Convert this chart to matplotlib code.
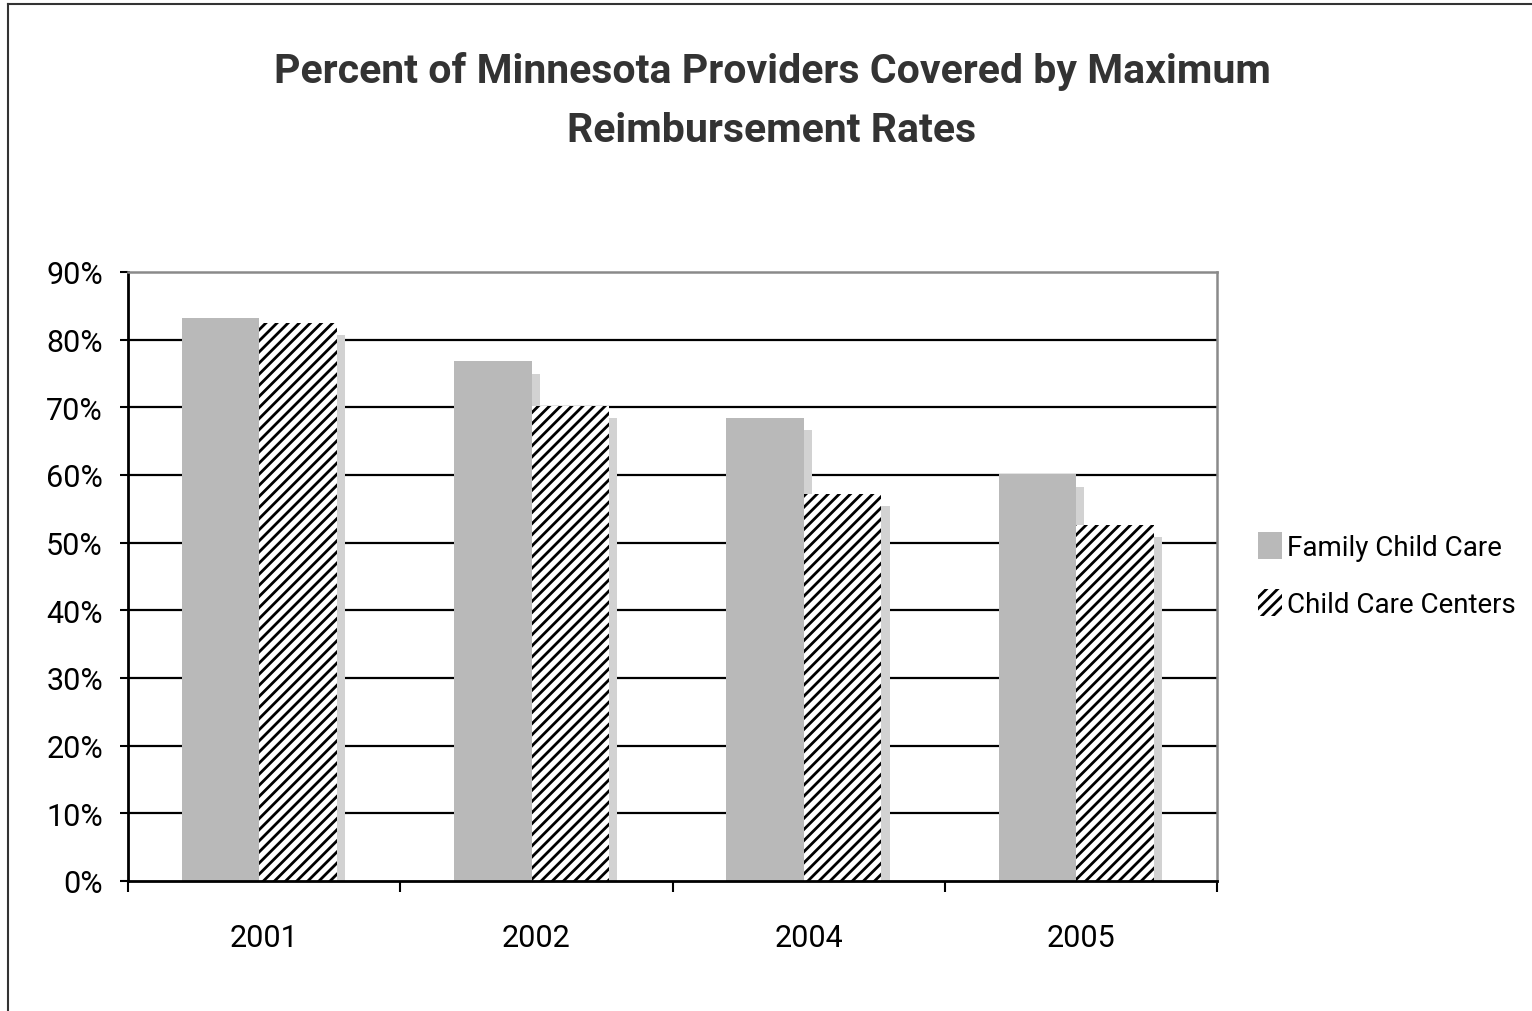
import matplotlib
matplotlib.use("Agg")
import matplotlib.pyplot as plt
from matplotlib.patches import Patch
from matplotlib.lines import Line2D
import numpy as np

# Data
years = ["2001", "2002", "2004", "2005"]
family_child_care = [83.2, 76.8, 68.4, 60.1]
child_care_centers = [82.5, 70.2, 57.2, 52.6]
y_ticks = [0, 10, 20, 30, 40, 50, 60, 70, 80, 90]
y_tick_labels = ["0%", "10%", "20%", "30%", "40%", "50%", "60%", "70%", "80%", "90%"]
title_text = "Percent of Minnesota Providers Covered by Maximum\nReimbursement Rates"
series_names = ["Family Child Care", "Child Care Centers"]

plt.rcParams["font.family"] = ["Roboto", "DejaVu Sans"]
plt.rcParams["hatch.linewidth"] = 2.0

BAR_GRAY = "#b9b9b9"
DEPTH_GRAY = "#d2d2d2"

fig = plt.figure(figsize=(15.32, 10.12), dpi=100)
ax = fig.add_axes([128 / 1532, 1 - 882 / 1012, (1217 - 128) / 1532, (882 - 273) / 1012])

x = np.arange(len(years))
w = 0.285
off_f = -0.16
off_c = 0.125
depth_w = 0.03
depth_drop = 1.8

# depth strips behind each bar
ax.bar(x + off_f + w / 2 + depth_w / 2, np.array(family_child_care) - depth_drop, width=depth_w,
       color=DEPTH_GRAY, edgecolor="none", zorder=2)
ax.bar(x + off_c + w / 2 + depth_w / 2, np.array(child_care_centers) - depth_drop, width=depth_w,
       color=DEPTH_GRAY, edgecolor="none", zorder=2)

# front faces
ax.bar(x + off_f, family_child_care, width=w, color=BAR_GRAY, edgecolor="none", zorder=3)
ax.bar(x + off_c, child_care_centers, width=w, facecolor="white", edgecolor="black",
       linewidth=0, hatch="///", zorder=3)

ax.set_xlim(-0.5, len(years) - 0.5)
ax.set_ylim(0, 90)

# horizontal gridlines
for v in y_ticks[1:-1]:
    ax.axhline(v, color="black", lw=1.6, zorder=1)

ax.set_yticks(y_ticks)
ax.set_yticklabels(y_tick_labels, fontsize=22)
ax.tick_params(axis="y", direction="out", length=6, width=1.5, pad=12, colors="black")

ax.set_xticks(x)
ax.set_xticklabels(years, fontsize=22)
ax.set_xticks(np.arange(-0.5, len(years), 1.0), minor=True)
ax.tick_params(axis="x", which="major", length=0, pad=30)
ax.tick_params(axis="x", which="minor", direction="out", length=8, width=1.5)

for side in ["left", "bottom"]:
    ax.spines[side].set_color("black")
    ax.spines[side].set_linewidth(2.0)
for side in ["top", "right"]:
    ax.spines[side].set_color("#8a8a8a")
    ax.spines[side].set_linewidth(1.8)
ax.spines["bottom"].set_zorder(5)

# title
fig.text(772 / 1532, 1 - 101 / 1012, title_text, ha="center", va="center",
         fontsize=29.5, fontweight="bold", color="#333333", linespacing=1.7)

# legend
handles = [Patch(facecolor=BAR_GRAY, edgecolor="none"),
           Patch(facecolor="white", edgecolor="black", linewidth=0, hatch="///")]
fig.legend(handles, series_names, loc="center left",
           bbox_to_anchor=(1244 / 1532, 1 - 576 / 1012), frameon=False,
           fontsize=20, handlelength=0.85, handleheight=1.1, handletextpad=0.2,
           labelspacing=1.0, borderpad=0)

# outer frame (left and top edges)
fig.add_artist(Line2D([8 / 1532, 8 / 1532], [0, 1 - 5 / 1012], transform=fig.transFigure,
                      color="#333333", lw=1.5))
fig.add_artist(Line2D([8 / 1532, 1], [1 - 5 / 1012, 1 - 5 / 1012], transform=fig.transFigure,
                      color="#333333", lw=1.5))

fig.savefig("out.png", dpi=100)
